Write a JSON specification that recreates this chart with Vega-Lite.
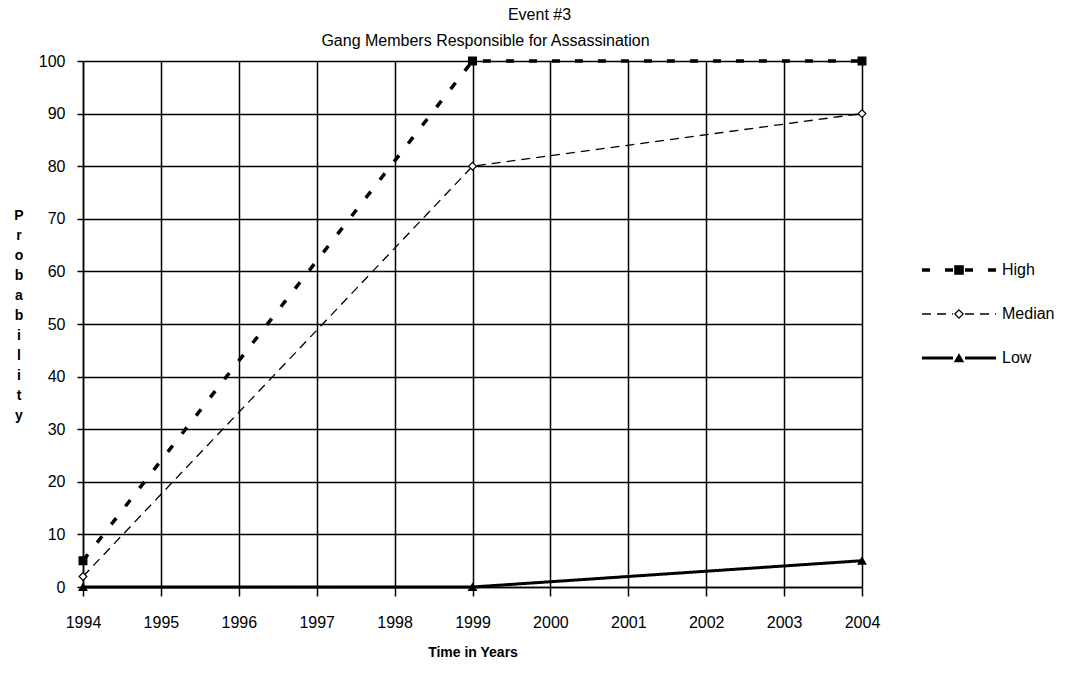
{
  "$schema": "https://vega.github.io/schema/vega-lite/v6.json",
  "width": 779,
  "height": 526,
  "autosize": {"type": "none"},
  "padding": {"left": 83, "top": 61, "right": 222, "bottom": 99},
  "background": "white",
  "config": {"font": "Liberation Sans", "view": {"stroke": null}},
  "title": {"text": "Event #3", "fontSize": 16, "fontWeight": "normal", "color": "black", "anchor": "middle", "frame": "group", "dx": 67, "offset": 9},
  "data": {"values": [
    {"year": 1994, "series": "High", "value": 5},
    {"year": 1999, "series": "High", "value": 100},
    {"year": 2004, "series": "High", "value": 100},
    {"year": 1994, "series": "Median", "value": 2},
    {"year": 1999, "series": "Median", "value": 80},
    {"year": 2004, "series": "Median", "value": 90},
    {"year": 1994, "series": "Low", "value": 0},
    {"year": 1999, "series": "Low", "value": 0},
    {"year": 2004, "series": "Low", "value": 5}
  ]},
  "layer": [
    {
      "mark": {"type": "line", "color": "black", "strokeCap": "butt"},
      "encoding": {
        "x": {"field": "year", "type": "quantitative",
          "scale": {"domain": [1994, 2004], "nice": false, "zero": false},
          "axis": {"orient": "bottom", "values": [1994,1995,1996,1997,1998,1999,2000,2001,2002,2003,2004], "format": "d",
            "labelFontSize": 16, "labelColor": "black", "labelPadding": 18, "labelFlush": false,
            "tickSize": 9, "tickColor": "black", "tickWidth": 1.5,
            "domainColor": "black", "domainWidth": 1.5,
            "grid": true, "gridColor": "black", "gridOpacity": 1, "gridWidth": 1.5,
            "title": "Time in Years", "titleFontSize": 14, "titleFontWeight": "bold", "titleColor": "black", "titlePadding": 15}},
        "y": {"field": "value", "type": "quantitative",
          "scale": {"domain": [0, 100], "nice": false},
          "axis": {"values": [0,10,20,30,40,50,60,70,80,90,100],
            "labelFontSize": 16, "labelColor": "black", "labelPadding": 12,
            "tickSize": 6, "tickColor": "black", "tickWidth": 1.5,
            "domainColor": "black", "domainWidth": 1.5,
            "grid": true, "gridColor": "black", "gridOpacity": 1, "gridWidth": 1.5,
            "title": ["P","r","o","b","a","b","i","l","i","t","y"],
            "titleAngle": 0, "titleFontSize": 14, "titleFontWeight": "bold", "titleColor": "black",
            "titleLineHeight": 20, "titleX": -64.5, "titleY": 158, "titleAlign": "center", "titleBaseline": "alphabetic"}},
        "strokeDash": {"field": "series", "type": "nominal",
          "scale": {"domain": ["High", "Median", "Low"], "range": [[8, 15], [9, 6], [1, 0]]},
          "legend": {"title": null, "orient": "none", "legendX": 868, "legendY": 201, "padding": 0,
            "symbolType": "M-9.25,0H-1.5M1.5,0H9.25", "symbolSize": 64, "symbolStrokeColor": "black",
            "labelOffset": 35, "rowPadding": 28, "labelFontSize": 16, "labelColor": "black"}},
        "strokeWidth": {"field": "series", "type": "nominal",
          "scale": {"type": "ordinal", "domain": ["High", "Median", "Low"], "range": [3.5, 1.3, 3]},
          "legend": {"title": null, "orient": "none", "legendX": 868, "legendY": 201, "padding": 0,
            "symbolType": "M-9.25,0H-1.5M1.5,0H9.25", "symbolSize": 64, "symbolStrokeColor": "black",
            "labelOffset": 35, "rowPadding": 28, "labelFontSize": 16, "labelColor": "black"}}
      }
    },
    {
      "mark": {"type": "point", "strokeWidth": 1.2, "opacity": 1, "fillOpacity": 1, "strokeOpacity": 1, "size": 60},
      "encoding": {
        "x": {"field": "year", "type": "quantitative",
          "axis": {"orient": "top", "labels": false, "ticks": false, "domain": false, "grid": false,
            "title": "Gang Members Responsible for Assassination", "titleFontSize": 16, "titleFontWeight": "normal",
            "titleColor": "black", "titleX": 402, "titleY": -21, "titleAlign": "center", "titleBaseline": "middle"}},
        "y": {"field": "value", "type": "quantitative"},
        "shape": {"field": "series", "type": "nominal",
          "sort": {"field": "value", "op": "max", "order": "descending"},
          "scale": {"range": ["square", "diamond", "triangle-up"]},
          "legend": {"title": null, "orient": "none", "legendX": 868, "legendY": 201, "padding": 0,
            "symbolSize": 70, "symbolStrokeColor": "black", "symbolStrokeWidth": 1.2,
            "labelOffset": 35, "rowPadding": 28, "labelFontSize": 16, "labelColor": "black", "labelOpacity": 0}},
        "fill": {"field": "series", "type": "nominal",
          "sort": {"field": "value", "op": "max", "order": "descending"},
          "scale": {"range": ["black", "white", "black"]},
          "legend": {"title": null, "orient": "none", "legendX": 868, "legendY": 201, "padding": 0,
            "symbolSize": 70, "symbolStrokeColor": "black", "symbolStrokeWidth": 1.2,
            "labelOffset": 35, "rowPadding": 28, "labelFontSize": 16, "labelColor": "black", "labelOpacity": 0}},
        "stroke": {"field": "series", "type": "nominal",
          "sort": {"field": "value", "op": "max", "order": "descending"},
          "scale": {"range": ["black", "black", "black"]},
          "legend": {"title": null, "orient": "none", "legendX": 868, "legendY": 201, "padding": 0,
            "symbolSize": 70, "symbolStrokeColor": "black", "symbolStrokeWidth": 1.2,
            "labelOffset": 35, "rowPadding": 28, "labelFontSize": 16, "labelColor": "black", "labelOpacity": 0}}
      }
    }
  ],
  "resolve": {"axis": {"x": "independent"}}
}
